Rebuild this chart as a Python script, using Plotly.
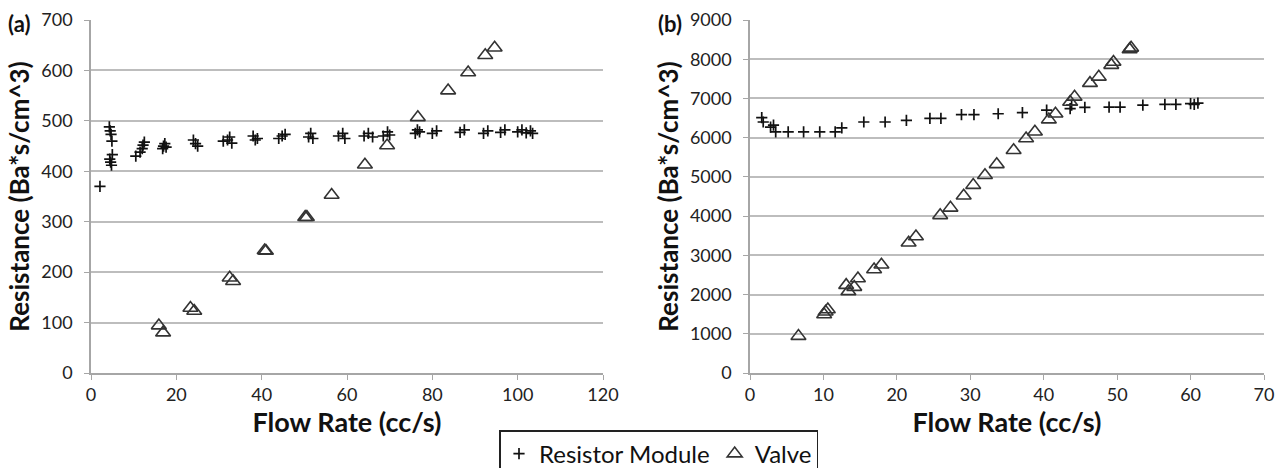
import plotly.graph_objects as go

# ---------------- data ----------------
# Panel (a)
ra_x = [2.1, 4.3, 4.5, 4.7, 4.9, 5.0, 4.4, 4.6, 4.8, 10.5, 11.5, 12.0, 12.2, 12.5,
        16.8, 17.0, 17.3, 17.6, 24.0, 24.5, 25.0, 31.0, 32.0, 32.5, 33.0, 38.0, 38.5, 39.0,
        44.0, 44.8, 45.5, 51.0, 51.5, 52.0, 58.0, 59.0, 59.5, 64.0, 65.0, 66.0, 68.5, 69.5,
        70.0, 76.0, 76.5, 77.0, 80.0, 81.0, 86.5, 87.5, 92.0, 93.0, 96.0, 97.0, 100.0,
        101.0, 102.0, 103.0, 103.5]
ra_y = [370, 488, 480, 473, 460, 433, 424, 418, 412, 430, 438, 445, 452, 458,
        445, 450, 455, 448, 462, 455, 450, 460, 462, 468, 456, 470, 462, 465,
        465, 470, 473, 468, 475, 465, 470, 475, 465, 470, 475, 468, 470, 478,
        472, 475, 482, 478, 475, 480, 477, 482, 475, 480, 477, 482, 478,
        482, 476, 480, 475]
va_x = [15.9, 16.9, 23.3, 24.2, 32.5, 33.3, 40.7, 41.0, 50.2, 50.6, 56.4, 64.2, 69.4,
        76.6, 83.7, 88.4, 92.4, 94.6]
va_y = [94, 80, 129, 123, 189, 182, 243, 242, 309, 309, 353, 413, 451,
        507, 560, 596, 630, 645]

# Panel (b)
rb_x = [1.6, 1.8, 2.8, 3.2, 3.5, 5.2, 7.3, 9.5, 11.6, 12.5, 15.5, 18.4, 21.3, 24.5,
        26.0, 28.8, 30.5, 33.8, 37.1, 40.4, 43.6, 43.8, 45.6, 48.9, 50.4, 53.5, 56.5,
        58.0, 60.0, 60.5, 61.0]
rb_y = [6510, 6400, 6270, 6320, 6150, 6150, 6150, 6150, 6150, 6250, 6400, 6400, 6440, 6490,
        6490, 6590, 6590, 6610, 6640, 6700, 6740, 6830, 6770, 6780, 6780, 6830, 6850,
        6850, 6870, 6850, 6880]
vb_x = [6.6, 10.1, 10.3, 10.6, 13.1, 13.4, 14.2, 14.7, 16.9, 17.9, 21.6, 22.6, 25.9,
        27.3, 29.1, 30.4, 32.0, 33.6, 35.9, 37.6, 38.8, 40.7, 41.6, 43.6, 44.2, 46.3,
        47.5, 49.2, 49.5, 51.7, 51.9]
vb_y = [940, 1490, 1560, 1620, 2240, 2080, 2190, 2410, 2640, 2760, 3320, 3480, 4020,
        4210, 4520, 4790, 5040, 5320, 5680, 5980, 6150, 6460, 6610, 6910, 7040, 7390,
        7550, 7850, 7930, 8250, 8290]

series_names = ["Resistor Module", "Valve"]
x_title = "Flow Rate (cc/s)"
y_title = "Resistance (Ba*s/cm^3)"
panel_labels = ["(a)", "(b)"]

# ---------------- styling ----------------
FONT = "Lato, 'Open Sans', sans-serif"
plus_marker = dict(symbol="cross-thin", size=8, line=dict(width=1.7, color="#111111"), color="#111111")
tri_marker = dict(symbol="triangle-up-open", size=13, line=dict(width=1.6, color="#333333"), color="#333333")

fig = go.Figure()
fig.add_trace(go.Scatter(x=ra_x, y=ra_y, mode="markers", name=series_names[0],
                         legendgroup="r", marker=plus_marker, xaxis="x", yaxis="y"))
fig.add_trace(go.Scatter(x=va_x, y=va_y, mode="markers", name=series_names[1],
                         legendgroup="v", marker=tri_marker, xaxis="x", yaxis="y"))
fig.add_trace(go.Scatter(x=rb_x, y=rb_y, mode="markers", name=series_names[0],
                         legendgroup="r", showlegend=False, marker=plus_marker, xaxis="x2", yaxis="y2"))
fig.add_trace(go.Scatter(x=vb_x, y=vb_y, mode="markers", name=series_names[1],
                         legendgroup="v", showlegend=False, marker=tri_marker, xaxis="x2", yaxis="y2"))

W, H = 1286, 468
ML, MR, MT, MB = 91, 22, 20, 95
PW = W - ML - MR
PH = H - MT - MB


def px_x(p):
    return (p - ML) / PW


def px_y(p):
    return (H - MB - p) / PH


TICKFONT = dict(family=FONT, size=18, color="#222222")
common_x = dict(showgrid=False, showline=True, linecolor="#a6a6a6", linewidth=1.5,
                ticks="outside", ticklen=5, tickcolor="#a6a6a6", tickwidth=1.2,
                tickfont=TICKFONT, zeroline=False, automargin=False, ticklabelstandoff=0,
                title=dict(text=x_title, font=dict(family=FONT, size=27, color="#111111", weight="bold"),
                           standoff=4))
common_y = dict(showgrid=True, gridcolor="#bdbdbd", gridwidth=1.6, showline=True,
                linecolor="#a6a6a6", linewidth=1.5, ticks="outside", ticklen=5,
                tickcolor="#a6a6a6", tickwidth=1.2,
                tickfont=TICKFONT, zeroline=False, automargin=False, ticklabelstandoff=8,
                title=dict(text=y_title, font=dict(family=FONT, size=26, color="#111111", weight="bold"),
                           standoff=4))

fig.update_layout(
    width=W, height=H,
    template="none",
    paper_bgcolor="white", plot_bgcolor="white",
    margin=dict(l=ML, r=MR, t=MT, b=MB, autoexpand=False),
    font=dict(family=FONT, color="#111111"),
    xaxis=dict(common_x, domain=[0, px_x(603)], range=[0, 120], dtick=20, anchor="y"),
    yaxis=dict(common_y, domain=[0, 1], range=[0, 700], dtick=100, anchor="x"),
    xaxis2=dict(common_x, domain=[px_x(750), 1], range=[0, 70], dtick=10, anchor="y2"),
    yaxis2=dict(common_y, domain=[0, 1], range=[0, 9000], dtick=1000, anchor="x2"),
    showlegend=True,
    legend=dict(orientation="h", x=px_x(658.5), xanchor="center", y=px_y(430),
                yanchor="top", bordercolor="#222222", borderwidth=1.5, bgcolor="white",
                font=dict(family=FONT, size=24, color="#111111"), itemwidth=30),
    annotations=[
        dict(text=panel_labels[0], xref="paper", yref="paper", x=px_x(6), y=px_y(23),
             xanchor="left", yanchor="middle", showarrow=False,
             font=dict(family=FONT, size=22, color="#111111", weight="bold")),
        dict(text=panel_labels[1], xref="paper", yref="paper", x=px_x(656), y=px_y(23),
             xanchor="left", yanchor="middle", showarrow=False,
             font=dict(family=FONT, size=22, color="#111111", weight="bold")),
    ],
)

fig.write_html("out.html", config={"displayModeBar": False},
               post_script="document.body.style.margin='0';document.body.style.overflow='hidden';")
